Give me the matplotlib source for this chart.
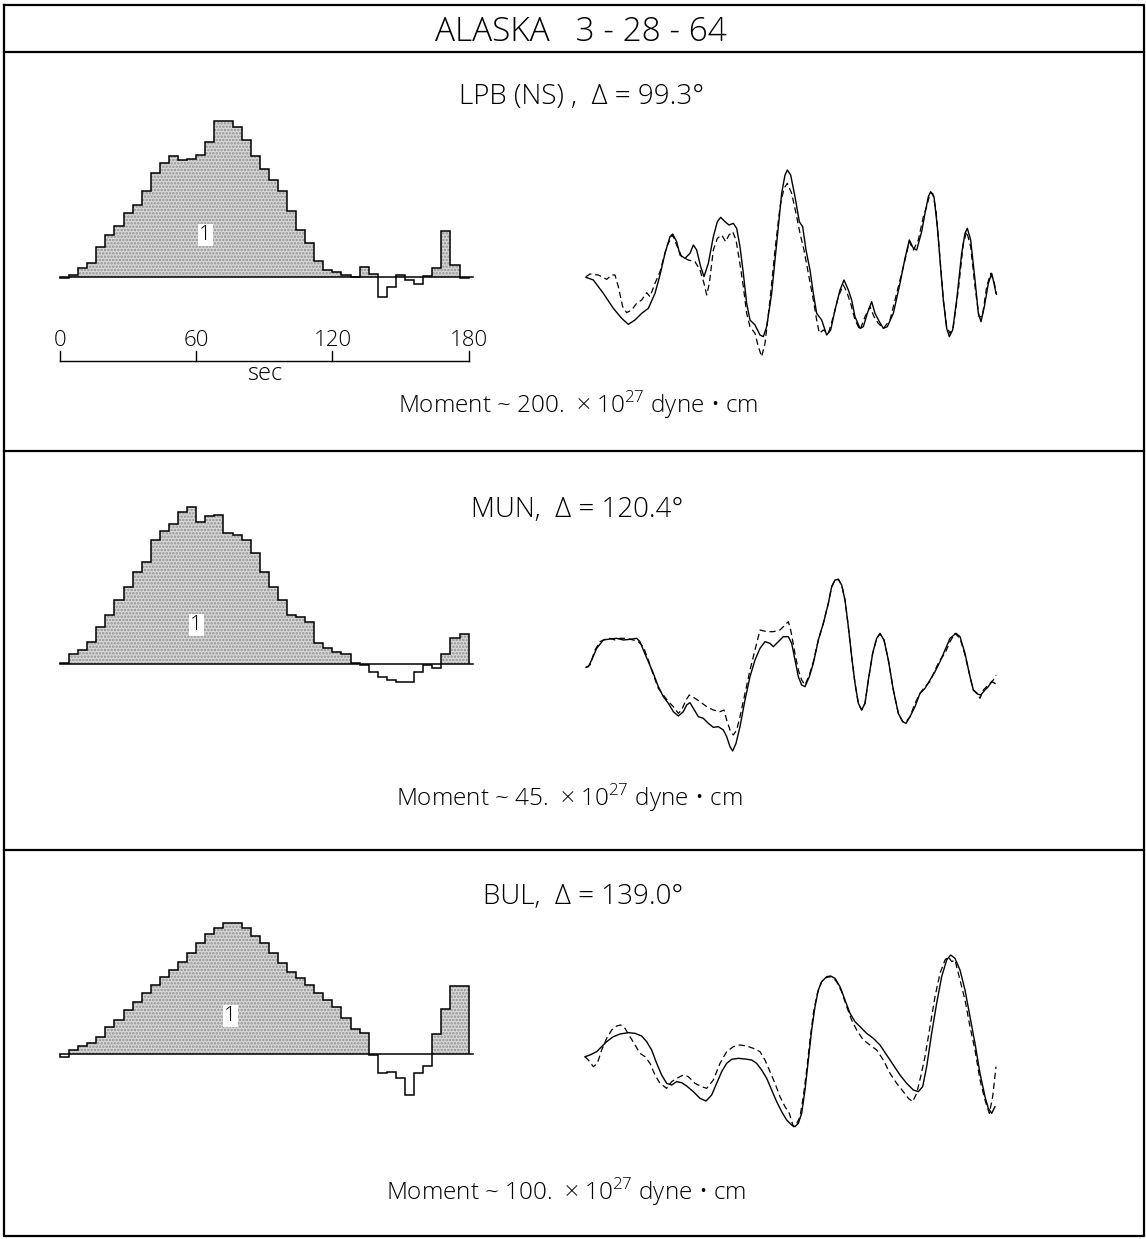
import matplotlib
matplotlib.use("Agg")
import matplotlib.pyplot as plt
import numpy as np

plt.rcParams['font.family'] = ['Open Sans', 'DejaVu Sans']
plt.rcParams['font.weight'] = 300
plt.rcParams['mathtext.fontset'] = 'custom'
plt.rcParams['mathtext.rm'] = 'Open Sans:light'
plt.rcParams['hatch.linewidth'] = 1.2

W, H = 1146, 1239

# source time functions, 4 sec steps from 0 to 180 sec (relative heights)
step_edges = np.arange(0, 184, 4)
lpb_steps = [-1, 2, 9, 14, 30, 42, 51, 64, 72, 86, 104, 114, 121, 117, 118,
             122, 135, 156, 156, 150, 137, 121, 108, 97, 86, 66, 47, 34, 16,
             7, 5, 2, 0, 10, 3, -20, -10, 2, -3, -7, 1, 9, 46, 12, -1]
mun_steps = [1, 10, 14, 22, 37, 49, 64, 77, 92, 102, 124, 133, 140, 152, 157,
             142, 148, 149, 131, 129, 124, 111, 92, 77, 64, 49, 47, 42, 21,
             16, 12, 10, 1, -1, -8, -13, -16, -18, -18, -8, -1, -4, 10, 26, 30]
bul_steps = [-3, 4, 8, 11, 17, 27, 34, 44, 52, 61, 69, 77, 84, 92, 101, 111,
             120, 126, 131, 131, 126, 118, 111, 101, 91, 82, 76, 69, 61, 54,
             47, 36, 25, 21, -1, -19, -18, -24, -41, -19, -12, 20, 45, 68, 68]

scale_ticks = [0, 60, 120, 180]

# waveforms (time, amplitude as digitized; amplitude grows downward)
lpb_obs = [(18, 352), (40, 360), (70, 400), (100, 445), (125, 475), (145, 493),
           (165, 480), (185, 460), (205, 445), (225, 400), (240, 345), (255, 280),
           (270, 230), (278, 222), (290, 245), (300, 285), (315, 295), (330, 280),
           (340, 255), (350, 270), (362, 320), (372, 350), (385, 310), (400, 230),
           (412, 185), (422, 172), (435, 185), (447, 195), (460, 190), (470, 205),
           (480, 260), (490, 340), (500, 430), (510, 480), (525, 495), (540, 525),
           (550, 530), (560, 500), (575, 400), (590, 250), (605, 100), (615, 45),
           (622, 30), (632, 45), (645, 110), (658, 185), (668, 200), (678, 270),
           (690, 330), (700, 400), (710, 460), (725, 480), (740, 525), (752, 510),
           (765, 450), (780, 390), (792, 360), (805, 390), (815, 420), (825, 470),
           (840, 505), (850, 500), (862, 460), (875, 425), (885, 460), (898, 485),
           (910, 505), (922, 500), (940, 460), (960, 370), (975, 295), (988, 240),
           (1000, 265), (1010, 270), (1025, 215), (1035, 160), (1045, 110),
           (1052, 95), (1062, 110), (1072, 200), (1080, 300), (1090, 420),
           (1100, 505), (1108, 530), (1118, 510), (1130, 420), (1145, 280),
           (1155, 220), (1162, 205), (1172, 240), (1185, 360), (1195, 460),
           (1203, 485), (1213, 440), (1225, 370), (1235, 340), (1242, 370),
           (1248, 400)]
lpb_syn = [(18, 350), (30, 342), (55, 345), (80, 358), (95, 345), (105, 345),
           (115, 380), (128, 440), (140, 458), (155, 450), (170, 430), (185, 420),
           (200, 398), (210, 410), (225, 370), (240, 335), (260, 260), (278, 225),
           (290, 255), (305, 290), (325, 300), (345, 305), (360, 330), (372, 370),
           (380, 405), (388, 370), (400, 270), (412, 235), (425, 225), (437, 245),
           (447, 225), (458, 215), (468, 240), (478, 300), (490, 380), (500, 460),
           (510, 500), (525, 520), (535, 560), (545, 590), (555, 550), (570, 420),
           (585, 270), (600, 140), (612, 85), (622, 70), (635, 100), (648, 160),
           (660, 220), (672, 270), (685, 340), (700, 420), (710, 480), (718, 520),
           (730, 510), (745, 520), (760, 470), (775, 410), (790, 375), (800, 395),
           (812, 430), (825, 480), (840, 510), (855, 470), (870, 440), (882, 470),
           (895, 490), (910, 505), (930, 480), (955, 380), (975, 300), (988, 245),
           (1000, 270), (1015, 240), (1030, 170), (1040, 140), (1050, 100),
           (1058, 100), (1068, 150), (1078, 270), (1090, 420), (1100, 500),
           (1110, 520), (1120, 500), (1135, 390), (1150, 250), (1160, 215),
           (1172, 260), (1185, 380), (1197, 470), (1207, 470), (1220, 380),
           (1232, 340), (1242, 365), (1250, 405)]

mun_obs = [(18, 292), (25, 290), (35, 270), (50, 235), (70, 210), (90, 207),
           (110, 205), (130, 210), (150, 208), (170, 205), (180, 215), (190, 240),
           (205, 275), (220, 310), (235, 350), (250, 380), (265, 400), (280, 425),
           (295, 438), (310, 425), (320, 405), (330, 398), (340, 415), (355, 440),
           (370, 445), (385, 460), (400, 472), (415, 470), (430, 480), (440, 500),
           (450, 530), (458, 543), (468, 520), (480, 470), (495, 390), (510, 320),
           (525, 270), (540, 235), (555, 215), (570, 220), (580, 230), (595, 215),
           (610, 200), (625, 200), (635, 220), (645, 270), (655, 320), (665, 345),
           (675, 350), (688, 320), (700, 280), (715, 210), (730, 160), (745, 100),
           (755, 50), (765, 30), (775, 28), (785, 45), (795, 90), (805, 170),
           (815, 260), (825, 340), (835, 400), (845, 420), (855, 400), (865, 330),
           (878, 250), (890, 205), (900, 190), (912, 210), (925, 270), (940, 360),
           (955, 430), (968, 455), (978, 460), (990, 440), (1005, 410), (1020, 370),
           (1035, 355), (1050, 330), (1065, 305), (1080, 275), (1095, 240),
           (1110, 205), (1128, 190), (1140, 200), (1155, 250), (1170, 320),
           (1180, 360), (1192, 372), (1202, 375), (1215, 360), (1225, 350),
           (1235, 335), (1245, 340)]
mun_syn = [(18, 292), (30, 285), (45, 240), (60, 215), (75, 208), (90, 205),
           (105, 210), (120, 205), (140, 205), (160, 210), (175, 215), (190, 230),
           (205, 270), (220, 315), (235, 355), (250, 375), (265, 395), (280, 410),
           (295, 430), (305, 420), (318, 390), (328, 375), (345, 385), (360, 395),
           (380, 410), (400, 420), (420, 425), (432, 420), (440, 450), (450, 480),
           (460, 495), (470, 480), (480, 440), (495, 370), (510, 300), (525, 240),
           (540, 180), (560, 185), (580, 185), (600, 180), (615, 165), (625, 155),
           (632, 180), (645, 250), (655, 300), (665, 330), (675, 345), (688, 315),
           (700, 275), (715, 210), (730, 160), (745, 100), (755, 50), (765, 30),
           (775, 28), (785, 45), (795, 90), (805, 170), (815, 260), (825, 340),
           (835, 400), (845, 420), (855, 400), (865, 330), (878, 250), (890, 205),
           (900, 192), (912, 210), (925, 270), (940, 360), (955, 430), (968, 455),
           (978, 455), (990, 440), (1005, 400), (1020, 370), (1035, 350),
           (1050, 335), (1065, 300), (1080, 270), (1095, 250), (1110, 215),
           (1125, 190), (1140, 205), (1155, 255), (1170, 320), (1180, 360),
           (1192, 370), (1200, 385), (1210, 360), (1225, 345), (1240, 330),
           (1248, 315)]

bul_obs = [(15, 320), (30, 315), (50, 305), (65, 290), (80, 275), (100, 260),
           (120, 252), (145, 248), (165, 250), (185, 258), (200, 275), (215, 300),
           (230, 340), (245, 375), (260, 400), (275, 405), (290, 395), (305, 398),
           (320, 408), (340, 425), (360, 445), (378, 453), (395, 435), (410, 400),
           (425, 365), (440, 340), (455, 328), (475, 325), (495, 327), (515, 330),
           (530, 340), (545, 360), (560, 385), (575, 420), (590, 455), (605, 485),
           (620, 510), (635, 525), (645, 530), (655, 520), (665, 490), (675, 420),
           (685, 330), (695, 240), (705, 170), (715, 120), (725, 95), (740, 80),
           (752, 78), (765, 85), (780, 110), (795, 150), (810, 190), (825, 215),
           (840, 230), (860, 250), (880, 265), (900, 285), (920, 315), (940, 345),
           (960, 375), (980, 400), (1000, 420), (1015, 425), (1028, 410),
           (1040, 350), (1055, 250), (1070, 160), (1085, 80), (1100, 30),
           (1112, 15), (1125, 25), (1140, 60), (1155, 120), (1170, 200),
           (1185, 280), (1200, 370), (1215, 440), (1225, 475), (1235, 490),
           (1245, 470)]
bul_syn = [(15, 320), (25, 330), (40, 350), (52, 340), (65, 300), (80, 265),
           (95, 240), (110, 228), (122, 225), (135, 235), (150, 260), (165, 285),
           (180, 310), (195, 320), (210, 340), (225, 375), (240, 400), (260, 415),
           (275, 395), (290, 385), (310, 375), (325, 380), (345, 400), (365, 410),
           (380, 415), (400, 390), (420, 340), (440, 305), (460, 290), (480, 285),
           (500, 288), (520, 295), (540, 305), (555, 330), (570, 365), (585, 400),
           (600, 440), (615, 470), (628, 490), (640, 530), (648, 525), (660, 500),
           (670, 440), (680, 360), (690, 270), (700, 190), (712, 130), (725, 95),
           (740, 82), (755, 80), (770, 95), (785, 125), (800, 170), (815, 210),
           (830, 240), (850, 270), (870, 285), (890, 300), (910, 330), (930, 370),
           (950, 400), (970, 425), (985, 445), (998, 455), (1010, 430), (1022, 380),
           (1035, 320), (1050, 230), (1065, 140), (1080, 70), (1095, 30),
           (1105, 20), (1115, 35), (1125, 30), (1140, 90), (1155, 150), (1170, 230),
           (1185, 300), (1200, 390), (1215, 450), (1228, 490), (1238, 440),
           (1248, 350)]

stations = ["LPB (NS) ,  Δ = 99.3°", "MUN,  Δ = 120.4°", "BUL,  Δ = 139.0°"]
moments = ["200.", "45.", "100."]

fig = plt.figure(figsize=(W / 100, H / 100), dpi=100)


def px_axes(x, y, w, h):
    ax = fig.add_axes([x / W, 1 - (y + h) / H, w / W, h / H])
    ax.set_axis_off()
    return ax


# frame
frame = px_axes(0, 0, W, H)
frame.set_xlim(0, W)
frame.set_ylim(H, 0)
frame.plot([4, 1144, 1144, 4, 4], [5, 5, 1236, 1236, 5], color='black', lw=1.6)
for yy in [52, 451, 850]:
    frame.plot([4, 1144], [yy, yy], color='black', lw=1.6)

frame.text(581, 32, "ALASKA   3 - 28 - 64", fontsize=24, ha='center', va='center')

# panel layout: baseline y of step plot, label pos, wave box
panels = [
    dict(steps=lpb_steps, base=277, one=(64, 42), obs=lpb_obs, syn=lpb_syn,
         wave=(580, 160, 420, 200), st=(582, 97), mo=(578, 405)),
    dict(steps=mun_steps, base=664, one=(60, 39), obs=mun_obs, syn=mun_syn,
         wave=(580, 570, 420, 190), st=(577, 510), mo=(569, 798)),
    dict(steps=bul_steps, base=1054, one=(75, 38), obs=bul_obs, syn=bul_syn,
         wave=(580, 950, 420, 180), st=(583, 897), mo=(566, 1192)),
]

pxs = 2.27  # pixels per second
for i, p in enumerate(panels):
    top = p['base'] - 180
    ax = px_axes(40, top, 460, 300)
    ax.set_xlim(-20 / pxs, 440 / pxs)
    ax.set_ylim(p['base'] - (top + 300), 180)
    vals = np.array(p['steps'], dtype=float)
    ax.stairs(np.clip(vals, 0, None), step_edges, fill=True, baseline=0,
              facecolor='#d8d8d8', edgecolor='#909090', hatch='.....', lw=0)
    ax.stairs(vals, step_edges, baseline=0, color='black', lw=1.1)
    ax.plot([step_edges[0], step_edges[-1] + 2], [0, 0], color='black', lw=1.1)
    ax.text(p['one'][0], p['one'][1], "1", fontsize=15, ha='center', va='center',
            bbox=dict(facecolor='white', edgecolor='none', pad=1.0))

    if i == 0:
        ax.plot([0, 180], [-84, -84], color='black', lw=1.0)
        for tk in scale_ticks:
            ax.plot([tk, tk], [-84, -74], color='black', lw=1.0)
            ax.text(tk, -64, str(tk), fontsize=16, ha='center', va='center')
        ax.text(90, -97, "sec", fontsize=17, ha='center', va='center')

    x0, y0, w, h = p['wave']
    wa = px_axes(x0, y0, w, h)
    wa.set_xlim(0, w * 3)
    wa.set_ylim(h * 3, 0)
    ox, oy = zip(*p['obs'])
    sx, sy = zip(*p['syn'])
    wa.plot(ox, oy, color='black', lw=1.0)
    wa.plot(sx, sy, color='black', lw=0.9, linestyle=(0, (5, 3)))

    frame.text(p['st'][0], p['st'][1], stations[i], fontsize=20, ha='center', va='center')
    frame.text(p['mo'][0], p['mo'][1],
               "Moment ~ " + moments[i] + "  × 10$^{27}$ dyne • cm",
               fontsize=17.5, ha='center', va='center')

fig.savefig("out.png", dpi=100)
